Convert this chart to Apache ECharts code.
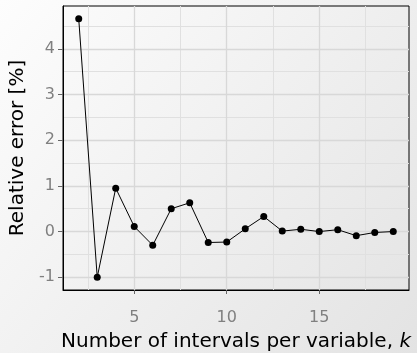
<!DOCTYPE html>
<html><head><meta charset="utf-8">
<script src="https://cdn.jsdelivr.net/npm/echarts@6/dist/echarts.min.js"></script>
<style>html,body{margin:0;padding:0;}#c{width:417px;height:353px;}</style>
</head><body><div id="c"></div>
<script>
const kValues = [2,3,4,5,6,7,8,9,10,11,12,13,14,15,16,17,18,19];
const relError = [4.66,-1.0,0.95,0.11,-0.30,0.50,0.63,-0.24,-0.23,0.06,0.33,0.01,0.05,0.0,0.04,-0.09,-0.02,0.0];
const xMajorTicks = [5,10,15];
const xMinorTicks = [2.5,7.5,12.5,17.5];
const yMajorTicks = [-1,0,1,2,3,4];
const yMinorTicks = [-0.5,0.5,1.5,2.5,3.5,4.5];
const xRange = [1.15, 19.85];
const yRange = [-1.28, 4.94];

const FONT = 'DejaVu Sans';
const chart = echarts.init(document.getElementById('c'), null, {renderer:'canvas'});
chart.setOption({
  animation:false,
  backgroundColor:{type:'linear',x:0,y:0,x2:1,y2:1,colorStops:[{offset:0,color:'#fdfdfd'},{offset:1,color:'#e3e3e3'}]},
  grid:{left:63,right:8,top:6,bottom:63,show:true,borderColor:'#000',borderWidth:1,backgroundColor:'transparent',
        containLabel:false,outerBoundsMode:'none'},
  xAxis:[
    {type:'value',min:xRange[0],max:xRange[1],
     name:'{n|Number of intervals per variable, }{k|k}',nameLocation:'middle',nameGap:42,
     nameTextStyle:{rich:{n:{fontFamily:FONT,fontSize:20,color:'#000'},k:{fontFamily:FONT,fontSize:20,fontStyle:'italic',color:'#000'}}},
     axisLine:{show:true,onZero:false,lineStyle:{color:'#000',width:1}},
     axisTick:{show:true,length:4,lineStyle:{color:'#666'},customValues:xMajorTicks},
     axisLabel:{customValues:xMajorTicks,fontFamily:FONT,fontSize:16,color:'#808080',margin:20},
     splitLine:{show:true,lineStyle:{color:'#d8d8d8',width:1.3}},
     z:3
    },
    {type:'value',min:xRange[0],max:xRange[1],position:'bottom',
     axisLine:{show:false,onZero:false},
     axisTick:{show:true,length:0,lineStyle:{color:'rgba(0,0,0,0)'},customValues:xMinorTicks},
     axisLabel:{show:false,customValues:xMinorTicks},
     splitLine:{show:true,lineStyle:{color:'#e0e0e0',width:1}},
     z:1}
  ],
  yAxis:[
    {type:'value',min:yRange[0],max:yRange[1],
     name:'Relative error [%]',nameLocation:'middle',nameGap:35,
     nameTextStyle:{fontFamily:FONT,fontSize:20,color:'#000'},
     axisLine:{show:true,onZero:false,lineStyle:{color:'#000',width:1}},
     axisTick:{show:true,length:5,lineStyle:{color:'#666'},customValues:yMajorTicks},
     axisLabel:{customValues:yMajorTicks,fontFamily:FONT,fontSize:16,color:'#808080',margin:8},
     splitLine:{show:true,lineStyle:{color:'#d8d8d8',width:1.3}},
     z:3
    },
    {type:'value',min:yRange[0],max:yRange[1],position:'left',
     axisLine:{show:false,onZero:false},
     axisTick:{show:true,length:0,lineStyle:{color:'rgba(0,0,0,0)'},customValues:yMinorTicks},
     axisLabel:{show:false,customValues:yMinorTicks},
     splitLine:{show:true,lineStyle:{color:'#e0e0e0',width:1}},
     z:1}
  ],
  series:[{
    type:'line',xAxisIndex:0,yAxisIndex:0,
    data:kValues.map((k,i)=>[k,relError[i]]),
    symbol:'circle',symbolSize:7,
    lineStyle:{color:'#000',width:1},
    itemStyle:{color:'#000'},
    z:5
  }]
});
</script></body></html>
